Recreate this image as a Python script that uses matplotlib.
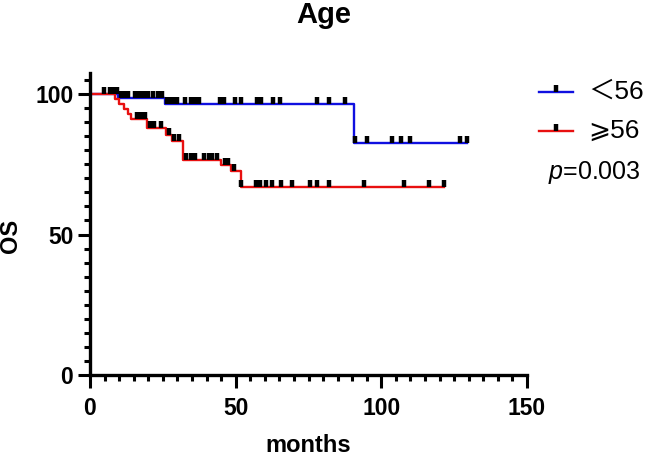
import numpy as np
import matplotlib
matplotlib.use("Agg")
import matplotlib.pyplot as plt
from matplotlib.path import Path
from matplotlib.lines import Line2D

plt.rcParams['font.family'] = ['Liberation Sans', 'DejaVu Sans', 'Noto Sans CJK SC']
plt.rcParams['mathtext.fontset'] = 'custom'
plt.rcParams['mathtext.it'] = 'Liberation Sans:italic'
plt.rcParams['mathtext.rm'] = 'Liberation Sans'

# Kaplan-Meier steps: (time in months, survival % after the step)
young_step_t = [0, 9.7, 25.7, 90.6]
young_step_s = [100, 98.7, 96.5, 82.5]
young_end = 129.4
young_cens = [4.8, 7.9, 9.3, 10.6, 12.0, 13.0, 15.4, 16.5, 17.5, 18.5, 19.9,
              21.6, 23.3, 24.7, 26.4, 27.5, 28.8, 29.9, 32.6, 34.7, 36.0,
              37.4, 44.6, 46.0, 49.8, 51.8, 57.3, 58.7, 62.8, 65.2, 77.9,
              82.0, 87.5, 90.8, 95.1, 103.7, 106.8, 109.9, 127.0, 129.4]

old_step_t = [0, 8.5, 10.0, 11.5, 13.0, 14.0, 19.5, 26.0, 28.0, 32.0, 45.0,
              48.3, 51.7]
old_step_s = [100, 98.2, 96.4, 94.6, 92.8, 91.0, 87.8, 85.6, 83.4, 76.5, 74.7,
              72.5, 67.0]
old_end = 121.6
old_cens = [7.0, 16.0, 17.5, 19.0, 20.5, 22.0, 24.5, 27.0, 29.0, 30.5, 33.0,
            34.5, 36.0, 39.3, 40.8, 42.0, 43.5, 46.2, 47.3, 49.5, 52.0, 57.0,
            58.5, 60.5, 62.5, 65.5, 69.2, 75.5, 77.8, 82.2, 94.1, 107.9,
            116.4, 121.6]

labels = ["＜56", "⩾56"]
colors = ["#1010e0", "#e81010"]
p_text = r"$p$=0.003"


def surv_at(t, st, ss):
    idx = np.searchsorted(st, t, side='right') - 1
    return np.array(ss)[idx]


# censor tick pointing up from the curve
tick = Path([(0, 0), (0, 1)], [Path.MOVETO, Path.LINETO])
W, H = 645, 458

fig = plt.figure(figsize=(6.45, 4.58), dpi=100)
ax = fig.add_axes([90/W, 1-375/H, 437/W, (375-73)/H])

groups = [(young_step_t, young_step_s, young_end, young_cens),
          (old_step_t, old_step_s, old_end, old_cens)]
for (st, ss, end, cens), col in zip(groups, colors):
    xs = list(st) + [end]
    ys = list(ss) + [ss[-1]]
    ax.step(xs, ys, where='post', color=col, lw=1.7, zorder=2)
    cy = surv_at(np.array(cens), st, ss)
    ax.plot(cens, cy, ls='none', marker=tick, ms=10, mew=3.2, mec='k',
            zorder=3)

ax.set_xlim(0, 150)
ax.set_ylim(0, 107.5)
ax.set_xticks([0, 50, 100, 150])
ax.set_xticks(np.arange(0, 151, 5), minor=True)
ax.set_yticks([0, 50, 100])
ax.set_yticks(np.arange(0, 106, 5), minor=True)
for s in ['top', 'right']:
    ax.spines[s].set_visible(False)
for s in ['left', 'bottom']:
    ax.spines[s].set_linewidth(2.4)
ax.tick_params(which='major', length=9, width=2.2, labelsize=16.5)
ax.tick_params(which='minor', length=4.5, width=2.2)
ax.tick_params(axis='x', which='major', pad=7)
ax.tick_params(axis='y', which='major', pad=3)
for lab in ax.get_xticklabels() + ax.get_yticklabels():
    lab.set_fontweight('bold')

ax.set_xlabel("months", fontsize=17, fontweight='bold', labelpad=10)
ax.set_ylabel("OS", fontsize=17, fontweight='bold')
ax.yaxis.set_label_coords(-0.155, 0.46)
fig.text(324/W, 1-15/H, "Age", fontsize=21, fontweight='bold',
         ha='center', va='center')

# legend drawn by hand
for i, (lab, col) in enumerate(zip(labels, colors)):
    yy = 1 - (92 + 39*i)/H
    fig.add_artist(Line2D([539/W, 573/W], [yy, yy], color=col, lw=1.7,
                          transform=fig.transFigure))
    fig.add_artist(Line2D([556/W], [yy], ls='none', marker=tick, ms=10,
                          mew=3.2, mec='k', transform=fig.transFigure))
    fig.text(588/W, yy, lab, fontsize=19, ha='left', va='center')
fig.text(548/W, 1-172/H, p_text, fontsize=18, ha='left', va='center')

fig.savefig("out.png", dpi=100)
